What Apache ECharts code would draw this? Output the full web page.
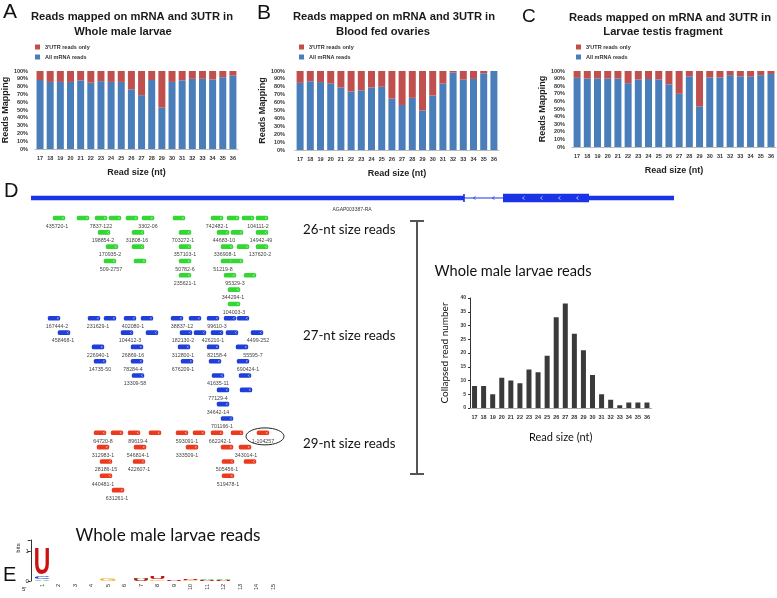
<!DOCTYPE html>
<html>
<head>
<meta charset="utf-8">
<script src="https://cdn.jsdelivr.net/npm/echarts@6/dist/echarts.min.js"></script>
<style>
html, body { margin: 0; padding: 0; background: #fff; }
#main { width: 777px; height: 598px; }
</style>
</head>
<body>
<div id="main"></div>
<script>
// read sizes (nt) used on every x axis
const sizeLabels = ['17', '18', '19', '20', '21', '22', '23', '24', '25', '26',
    '27', '28', '29', '30', '31', '32', '33', '34', '35', '36'];

// A - whole male larvae (% of reads)
const maleMrna = [88.5, 86, 86, 86, 88, 85, 87, 86, 86, 76.5, 69, 88.5, 53, 86, 88, 90, 90, 89, 92, 94];
const maleUtr = [11.5, 14, 14, 14, 12, 15, 13, 14, 14, 23.5, 31, 11.5, 47, 14, 12, 10, 10, 11, 8, 6];
// B - blood fed ovaries
const ovaryMrna = [85, 87, 86, 84, 79, 74, 75.5, 79, 80, 65, 57, 66, 50, 69, 84, 98, 89, 90, 97, 100];
const ovaryUtr = [15, 13, 14, 16, 21, 26, 24.5, 21, 20, 35, 43, 34, 50, 31, 16, 2, 11, 10, 3, 0];
// C - larvae testis fragment
const testisMrna = [91, 90, 90, 90, 90, 84, 89, 89.5, 89, 82.5, 70, 93, 53.5, 91.5, 91.5, 94.5, 93, 92.5, 94.5, 96];
const testisUtr = [9, 10, 10, 10, 10, 16, 11, 10.5, 11, 17.5, 30, 7, 46.5, 8.5, 8.5, 5.5, 7, 7.5, 5.5, 4];

// D - collapsed read numbers per size
const collapsedCounts = [8, 8, 5, 11, 10, 9, 14, 13, 19, 33, 38, 27, 21, 12, 5, 3, 1, 2, 2, 2];

// gene model: [start, end, part]
const geneParts = [[0, 4330, 'utr'], [4330, 4720, 'intron'], [4720, 5580, 'cds'], [5580, 6430, 'utr']];
const geneRow = -1.4;

// reads: [position, track row]
const reads26 = [
    [280, 0], [520, 0], [700, 0], [840, 0], [1010, 0], [1170, 0], [1480, 0], [1860, 0], [2020, 0], [2170, 0], [2310, 0],
    [730, 1], [1070, 1], [1540, 1], [1920, 1], [2060, 1], [2310, 1],
    [810, 2], [1070, 2], [1540, 2], [1960, 2], [2120, 2], [2310, 2],
    [790, 3], [1090, 3], [1540, 3], [1960, 3], [2060, 3],
    [1540, 4], [1990, 4], [2190, 4],
    [2030, 5],
    [2030, 6]
];
const reads27 = [
    [230, 7], [630, 7], [790, 7], [990, 7], [1160, 7], [1460, 7], [1640, 7], [1820, 7], [1990, 7], [2120, 7],
    [330, 8], [960, 8], [1210, 8], [1550, 8], [1690, 8], [1860, 8], [2010, 8], [2260, 8],
    [670, 9], [1060, 9], [1530, 9], [1820, 9], [2110, 9],
    [690, 10], [1060, 10], [1560, 10], [1840, 10], [2120, 10],
    [1070, 11], [1870, 11], [2140, 11],
    [1920, 12], [2150, 12],
    [1920, 13],
    [1960, 14]
];
const reads29 = [
    [690, 15], [860, 15], [1030, 15], [1240, 15], [1510, 15], [1680, 15], [1860, 15], [2060, 15], [2320, 15],
    [720, 16], [1090, 16], [1610, 16], [1960, 16], [2140, 16],
    [750, 17], [1080, 17], [1970, 17], [2190, 17],
    [750, 18], [1970, 18],
    [870, 19]
];

// read names: [position, track row, name]
const readNames = [
    [260, 0, '435720-1'], [700, 0, '7837-122'], [1170, 0, '3302-06'], [1860, 0, '742482-1'], [2270, 0, '104111-2'],
    [720, 1, '198854-2'], [1060, 1, '31808-16'], [1520, 1, '703272-1'], [1930, 1, '44683-10'], [2300, 1, '14942-49'],
    [790, 2, '170935-2'], [1540, 2, '357103-1'], [1940, 2, '336908-1'], [2290, 2, '137620-2'],
    [800, 3, '509-2757'], [1540, 3, '50782-6'], [1920, 3, '51219-8'],
    [1540, 4, '235621-1'], [2040, 4, '95329-3'],
    [2020, 5, '344294-1'],
    [2030, 6, '104003-3'],
    [260, 7, '167444-2'], [670, 7, '231629-1'], [1020, 7, '402080-1'], [1510, 7, '38837-12'], [1860, 7, '99610-3'],
    [320, 8, '458468-1'], [990, 8, '104412-3'], [1520, 8, '182130-2'], [1820, 8, '426210-1'], [2270, 8, '4499-252'],
    [670, 9, '226940-1'], [1020, 9, '26869-16'], [1520, 9, '312800-1'], [1860, 9, '82158-4'], [2220, 9, '55595-7'],
    [690, 10, '14735-50'], [1020, 10, '78284-4'], [1520, 10, '676209-1'], [2170, 10, '690424-1'],
    [1040, 11, '13309-58'], [1870, 11, '41635-11'],
    [1870, 12, '77129-4'],
    [1870, 13, '34642-14'],
    [1910, 14, '701166-1'],
    [720, 15, '64720-8'], [1070, 15, '89619-4'], [1560, 15, '593091-1'], [1890, 15, '662242-1'], [2320, 15, '1-104257'],
    [720, 16, '312983-1'], [1070, 16, '546814-1'], [1560, 16, '333509-1'], [2150, 16, '343014-1'],
    [750, 17, '28186-15'], [1080, 17, '422607-1'], [1960, 17, '505456-1'],
    [720, 18, '440481-1'], [1970, 18, '519478-1'],
    [860, 19, '631261-1']
];
const circledRead = [[2340, 15.25]];

// E - sequence logo: [position, letter, bits] stacked bottom to top
const logoPositions = ['1', '2', '3', '4', '5', '6', '7', '8', '9', '10', '11', '12', '13', '14', '15'];
const logoLetters = [
    ['1', 'A', 0.05], ['1', 'C', 0.09], ['1', 'U', 0.92],
    ['5', 'G', 0.08],
    ['7', 'U', 0.07], ['7', 'A', 0.06],
    ['8', 'G', 0.06], ['8', 'U', 0.07],
    ['9', 'U', 0.05],
    ['10', 'G', 0.03], ['10', 'U', 0.03],
    ['11', 'U', 0.03], ['11', 'A', 0.02],
    ['12', 'U', 0.02], ['12', 'A', 0.05]
];

const BLUE = '#4a7ebb';
const RED = '#c0504d';
const GENE = '#1a33e6';
const LETTER_COLORS = { A: '#1faa1f', C: '#2040d0', G: '#f0b030', U: '#cc1111' };

const chart = echarts.init(document.getElementById('main'));

const panels = [
    { mrna: maleMrna, utr: maleUtr, grid: { left: 34, top: 71, width: 204, height: 78 }, legend: 35, gap: 23 },
    { mrna: ovaryMrna, utr: ovaryUtr, grid: { left: 295, top: 71, width: 204, height: 79 }, legend: 299, gap: 26 },
    { mrna: testisMrna, utr: testisUtr, grid: { left: 572, top: 71, width: 205, height: 76 }, legend: 576, gap: 23 }
];

const tiny = { fontSize: 5.5, fontWeight: 'bold', color: '#333', fontFamily: 'Liberation Sans' };

const grids = panels.map(p => p.grid);
const xAxes = [];
const yAxes = [];
const series = [];
const legends = [];

panels.forEach((p, i) => {
    xAxes.push({
        type: 'category', gridIndex: i, data: sizeLabels,
        axisLine: { lineStyle: { color: '#bbb' } },
        axisTick: { lineStyle: { color: '#bbb' }, length: 3 },
        axisLabel: { ...tiny, interval: 0, margin: 6 },
        name: 'Read size (nt)', nameLocation: 'middle', nameGap: 19,
        nameTextStyle: { fontSize: 9, fontWeight: 'bold', color: '#222', fontFamily: 'Liberation Sans' }
    });
    yAxes.push({
        type: 'value', gridIndex: i, min: 0, max: 100, interval: 10,
        axisLine: { show: false }, axisTick: { show: false }, splitLine: { show: false },
        axisLabel: { ...tiny, formatter: '{value}%', margin: i === 1 ? 10 : 7 },
        name: 'Reads Mapping', nameLocation: 'middle', nameGap: p.gap,
        nameTextStyle: { fontSize: 9, fontWeight: 'bold', color: '#222', fontFamily: 'Liberation Sans' }
    });
    series.push({
        name: 'All mRNA reads', type: 'bar', xAxisIndex: i, yAxisIndex: i, stack: 'p' + i,
        data: p.mrna, barWidth: 7, itemStyle: { color: BLUE }
    });
    series.push({
        name: "3'UTR reads only", type: 'bar', xAxisIndex: i, yAxisIndex: i, stack: 'p' + i,
        data: p.utr, barWidth: 7, itemStyle: { color: RED }
    });
    legends.push({
        data: ["3'UTR reads only", 'All mRNA reads'], orient: 'vertical',
        left: p.legend, top: 44, padding: 0, itemGap: 4, itemWidth: 5, itemHeight: 5,
        icon: 'rect', textStyle: { fontSize: 5.5, fontWeight: 'bold', color: '#333' }
    });
});

// histogram
grids.push({ left: 470, top: 298, width: 181.5, height: 110 });
xAxes.push({
    type: 'category', gridIndex: 3, data: sizeLabels,
    axisLine: { lineStyle: { color: '#aaa' } },
    axisTick: { length: 3, lineStyle: { color: '#aaa' } },
    axisLabel: { ...tiny, interval: 0, margin: 6 },
    name: 'Read size (nt)', nameLocation: 'middle', nameGap: 24,
    nameTextStyle: { fontSize: 11, color: '#111', fontFamily: 'Lato' }
});
yAxes.push({
    type: 'value', gridIndex: 3, min: 0, max: 40, interval: 5,
    axisLine: { show: true, lineStyle: { color: '#333' } },
    axisTick: { show: true, length: 2, lineStyle: { color: '#333' } },
    splitLine: { show: false },
    axisLabel: { ...tiny, fontSize: 5, margin: 4 },
    name: 'Collapsed read number', nameLocation: 'middle', nameGap: 20,
    nameTextStyle: { fontSize: 10, color: '#111', fontFamily: 'Lato' }
});
series.push({
    name: 'collapsed', type: 'bar', xAxisIndex: 3, yAxisIndex: 3,
    data: collapsedCounts, barWidth: 5, itemStyle: { color: '#3a3a3a' }
});

// gene track / reads
grids.push({ left: 31, top: 189.4, width: 643, height: 315 });
xAxes.push({ type: 'value', gridIndex: 4, min: 0, max: 6430, show: false });
yAxes.push({ type: 'value', gridIndex: 4, min: -2, max: 20, inverse: true, show: false });

series.push({
    type: 'custom', xAxisIndex: 4, yAxisIndex: 4,
    data: geneParts.map(g => [g[0], geneRow, g[1]]),
    renderItem: (params, api) => {
        const kind = geneParts[params.dataIndex][2];
        const s = api.coord([api.value(0), api.value(1)]);
        const e = api.coord([api.value(2), api.value(1)]);
        const y = s[1];
        const kids = [];
        if (kind === 'intron') {
            kids.push({ type: 'line', shape: { x1: s[0], y1: y, x2: e[0], y2: y }, style: { stroke: GENE, lineWidth: 1 } });
            kids.push({ type: 'rect', shape: { x: s[0] - 0.8, y: y - 4, width: 1.6, height: 8 }, style: { fill: GENE } });
            for (let x = s[0] + 10; x < e[0] - 5; x += 19) {
                kids.push({ type: 'polyline', shape: { points: [[x + 1.5, y - 1.6], [x - 0.5, y], [x + 1.5, y + 1.6]] },
                    style: { stroke: GENE, lineWidth: 0.8, fill: null } });
            }
        } else {
            const h = kind === 'cds' ? 8.6 : 4.6;
            kids.push({ type: 'rect', shape: { x: s[0], y: y - h / 2, width: e[0] - s[0], height: h }, style: { fill: GENE } });
            if (kind === 'cds') {
                for (let x = s[0] + 20; x < e[0] - 8; x += 18) {
                    kids.push({ type: 'polyline', shape: { points: [[x + 1.5, y - 1.6], [x - 0.5, y], [x + 1.5, y + 1.6]] },
                        style: { stroke: '#ccd4ff', lineWidth: 0.8, fill: null } });
                }
            }
        }
        return { type: 'group', children: kids };
    }
});

function readItem(color) {
    return (params, api) => {
        const [x, y] = api.coord([api.value(0), api.value(1)]);
        return {
            type: 'group', children: [
                { type: 'rect', shape: { x: x - 6.2, y: y - 2.3, width: 12.4, height: 4.6, r: 1.5 }, style: { fill: color } },
                { type: 'polyline', shape: { points: [[x + 4.4, y - 1.1], [x + 3.4, y], [x + 4.4, y + 1.1]] },
                    style: { stroke: '#fff', lineWidth: 0.6, fill: null } }
            ]
        };
    };
}
[[reads26, '#33d633'], [reads27, '#1f3fd8'], [reads29, '#ec3a1e']].forEach(([list, color]) => {
    series.push({ type: 'custom', xAxisIndex: 4, yAxisIndex: 4, data: list, renderItem: readItem(color) });
});

series.push({
    type: 'custom', xAxisIndex: 4, yAxisIndex: 4,
    data: readNames.map(r => [r[0], r[1]]),
    renderItem: (params, api) => {
        const [x, y] = api.coord([api.value(0), api.value(1)]);
        return {
            type: 'text', x, y: y + 8.3,
            style: { text: readNames[params.dataIndex][2], fontSize: 5.3, fill: '#444', align: 'center',
                verticalAlign: 'middle', fontFamily: 'Liberation Sans' }
        };
    }
});

series.push({
    type: 'custom', xAxisIndex: 4, yAxisIndex: 4, data: circledRead,
    renderItem: (params, api) => {
        const [x, y] = api.coord([api.value(0), api.value(1)]);
        return { type: 'ellipse', shape: { cx: x, cy: y, rx: 19, ry: 8.5 }, style: { fill: null, stroke: '#222', lineWidth: 1 } };
    }
});

// sequence logo
grids.push({ left: 33.75, top: 540, width: 247.5, height: 41 });
xAxes.push({
    type: 'category', gridIndex: 5, data: logoPositions,
    axisLine: { show: false }, axisTick: { show: false },
    axisLabel: { interval: 0, rotate: 90, fontSize: 5.5, color: '#222', margin: 3, fontFamily: 'Liberation Sans' }
});
yAxes.push({
    type: 'value', gridIndex: 5, min: 0, max: 1.4, interval: 1, offset: 3,
    axisLine: { show: true, lineStyle: { color: '#333' } },
    axisTick: { show: true, length: 3, lineStyle: { color: '#333' } },
    splitLine: { show: false },
    axisLabel: { fontSize: 6, color: '#222', margin: 2, fontFamily: 'Liberation Sans',
        formatter: v => (v > 1 ? '' : String(v)) }
});

const logoItems = [];
const stackTop = {};
logoLetters.forEach(([pos, letter, bits]) => {
    const base = stackTop[pos] || 0;
    logoItems.push({ value: [logoPositions.indexOf(pos), base, bits], letter });
    stackTop[pos] = base + bits;
});
series.push({
    type: 'custom', xAxisIndex: 5, yAxisIndex: 5,
    data: logoItems.map(d => d.value),
    renderItem: (params, api) => {
        const letter = logoItems[params.dataIndex].letter;
        const bottom = api.coord([api.value(0), api.value(1)]);
        const top = api.coord([api.value(0), api.value(1) + api.value(2)]);
        const h = bottom[1] - top[1];
        const w = api.size([1, 0])[0] * 1.0;
        const F = 40;
        return {
            type: 'text', x: bottom[0], y: (bottom[1] + top[1]) / 2,
            scaleX: w / (0.72 * F), scaleY: h / (0.72 * F),
            style: { text: letter, fontSize: F, fontWeight: 'bold', fontFamily: 'Liberation Sans',
                fill: LETTER_COLORS[letter], align: 'center', verticalAlign: 'middle' }
        };
    }
});

function txt(text, x, y, size, extra) {
    return {
        type: 'text', x, y, silent: true,
        style: Object.assign({ text, fontSize: size, fill: '#111', fontFamily: 'Liberation Sans',
            align: 'left', verticalAlign: 'middle' }, extra || {})
    };
}
const titleStyle = { fontWeight: 'bold', align: 'center', fill: '#1a1a1a' };
const calibri = { fontFamily: 'Lato' };

const graphic = [
    txt('A', 3, 12, 21),
    txt('B', 257, 13, 21),
    txt('C', 522, 17, 19),
    txt('D', 4, 191, 20),
    txt('E', 3, 575, 20),
    txt('Reads mapped on mRNA and 3UTR in', 132, 16.5, 11.2, titleStyle),
    txt('Whole male larvae', 123, 31.5, 11.2, titleStyle),
    txt('Reads mapped on mRNA and 3UTR in', 394, 17.3, 11.2, titleStyle),
    txt('Blood fed ovaries', 383, 31.7, 11.2, titleStyle),
    txt('Reads mapped on mRNA and 3UTR in', 670, 18.3, 11.2, titleStyle),
    txt('Larvae testis fragment', 663, 32.3, 11.2, titleStyle),
    txt('AGAP003387-RA', 352, 210, 5, { align: 'center', fill: '#333' }),
    txt('26-nt size reads', 303, 230, 13.3, calibri),
    txt('27-nt size reads', 303, 336, 13.3, calibri),
    txt('29-nt size reads', 303, 444, 13.3, calibri),
    txt('Whole male larvae reads', 513, 271.5, 14.6, { ...calibri, align: 'center' }),
    txt('Whole male larvae reads', 168, 535, 17.2, { ...calibri, align: 'center' }),
    { type: 'text', x: 18, y: 548, rotation: Math.PI / 2, silent: true,
        style: { text: 'bits', fontSize: 6, fill: '#222', align: 'center', verticalAlign: 'middle', fontFamily: 'Liberation Sans' } },
    txt("5'", 22, 589, 6, { fill: '#222' }),
    { type: 'line', silent: true, shape: { x1: 417, y1: 221, x2: 417, y2: 474 }, style: { stroke: '#555', lineWidth: 2 } },
    { type: 'line', silent: true, shape: { x1: 410, y1: 221, x2: 424, y2: 221 }, style: { stroke: '#555', lineWidth: 2 } },
    { type: 'line', silent: true, shape: { x1: 410, y1: 474, x2: 424, y2: 474 }, style: { stroke: '#555', lineWidth: 2 } }
];

chart.setOption({
    animation: false,
    backgroundColor: '#fff',
    textStyle: { fontFamily: 'Liberation Sans' },
    grid: grids,
    xAxis: xAxes,
    yAxis: yAxes,
    legend: legends,
    series,
    graphic
});
</script>
</body>
</html>
